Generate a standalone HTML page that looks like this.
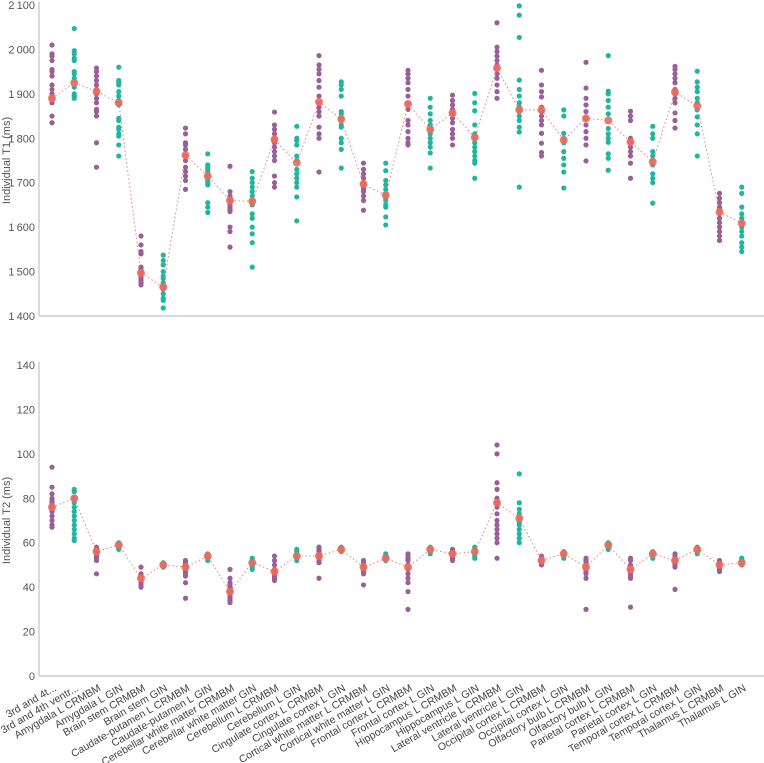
<!DOCTYPE html>
<html><head><meta charset="utf-8"><style>
html,body{margin:0;padding:0;background:#fff;}
svg{display:block;font-family:"Segoe UI","Liberation Sans",sans-serif;}
</style></head><body>
<svg id="chart" width="764" height="763" viewBox="0 0 764 763" xmlns="http://www.w3.org/2000/svg"></svg>
<script>
const categories=["3rd and 4t...","3rd and 4th ventr...","Amygdala L CRMBM","Amygdala L GIN","Brain stem CRMBM","Brain stem GIN","Caudate-putamen L CRMBM","Caudate-putamen L GIN","Cerebellar white matter CRMBM","Cerebellar white matter GIN","Cerebellum L CRMBM","Cerebellum L GIN","Cingulate cortex L CRMBM","Cingulate cortex L GIN","Cortical white matter L CRMBM","Cortical white matter L GIN","Frontal cortex L CRMBM","Frontal cortex L GIN","Hippocampus L CRMBM","Hippocampus L GIN","Lateral ventricle L CRMBM","Lateral ventricle L GIN","Occipital cortex L CRMBM","Occipital cortex L GIN","Olfactory bulb L CRMBM","Olfactory bulb L GIN","Parietal cortex L CRMBM","Parietal cortex L GIN","Temporal cortex L CRMBM","Temporal cortex L GIN","Thalamus L CRMBM","Thalamus L GIN"];
const t1Values=[
[2010,1990,1985,1975,1955,1950,1940,1920,1910,1900,1890,1885,1880,1850,1835],
[2047,1997,1990,1980,1975,1950,1945,1935,1930,1915,1900,1895,1890],
[1958,1950,1940,1930,1920,1910,1900,1890,1880,1865,1860,1850,1790,1735],
[1960,1930,1925,1920,1905,1895,1885,1880,1875,1845,1840,1825,1820,1810,1805,1785,1760],
[1580,1560,1545,1540,1510,1505,1500,1495,1490,1485,1480,1475,1470],
[1537,1525,1515,1500,1490,1485,1475,1470,1465,1460,1450,1440,1435,1418],
[1823,1810,1790,1785,1775,1760,1750,1735,1725,1715,1705,1685],
[1765,1740,1735,1730,1725,1720,1715,1710,1705,1700,1695,1655,1645,1633],
[1737,1680,1670,1665,1660,1655,1650,1645,1640,1635,1600,1590,1555],
[1725,1710,1700,1690,1680,1670,1660,1650,1630,1620,1600,1585,1565,1510],
[1859,1830,1820,1810,1800,1795,1790,1780,1770,1760,1750,1715,1700,1690],
[1827,1800,1795,1785,1760,1750,1730,1720,1710,1700,1690,1668,1614],
[1986,1965,1955,1945,1930,1915,1895,1880,1870,1860,1850,1825,1810,1800,1724],
[1927,1920,1910,1895,1860,1855,1845,1840,1830,1825,1800,1790,1775,1733],
[1744,1730,1720,1710,1700,1695,1690,1685,1680,1670,1660,1638],
[1744,1727,1705,1695,1685,1675,1670,1665,1660,1650,1645,1623,1605],
[1953,1945,1935,1925,1910,1895,1880,1865,1840,1830,1815,1800,1790,1785],
[1890,1870,1855,1840,1830,1820,1810,1800,1790,1780,1767,1733],
[1897,1885,1875,1865,1855,1845,1835,1820,1810,1800,1785],
[1901,1880,1862,1830,1810,1800,1790,1780,1770,1760,1750,1744,1710],
[2060,2005,1995,1985,1975,1965,1955,1945,1935,1920,1905,1890],
[2098,2077,2027,1931,1910,1895,1880,1870,1860,1850,1840,1825,1814,1690],
[1953,1920,1905,1893,1870,1860,1850,1840,1830,1811,1789,1768,1760],
[1864,1850,1811,1800,1790,1770,1755,1740,1724,1688],
[1971,1913,1890,1875,1860,1845,1830,1815,1800,1785,1749],
[1986,1906,1900,1885,1870,1855,1822,1810,1800,1791,1765,1755,1728],
[1861,1850,1840,1800,1790,1780,1770,1760,1744,1710],
[1827,1810,1800,1770,1760,1750,1740,1720,1710,1700,1654],
[1962,1955,1945,1935,1925,1910,1900,1890,1880,1857,1840,1823],
[1951,1927,1915,1905,1890,1880,1864,1848,1830,1810,1760],
[1676,1665,1655,1645,1640,1630,1620,1610,1600,1590,1580,1570],
[1690,1676,1645,1630,1620,1610,1600,1590,1580,1565,1555,1545]];
const t1Means=[1890,1925,1905,1880,1497,1465,1762,1715,1660,1658,1797,1745,1882,1843,1697,1672,1877,1820,1857,1802,1958,1864,1864,1796,1845,1840,1792,1747,1904,1873,1634,1609];
const t2Values=[
[94,85,82,80,79,78,77,76,75,74,72,70,68,67],
[84,83,80,78,76,74,72,70,68,66,64,62,61],
[58,57,56,55,54,53,52,46],
[60,59.5,59,58.5,58,57.5,57],
[49,46,45,44,43,42,41,40],
[51,50.5,50,49.5,49],
[52,51,50,49,48,47,46,45,42,35],
[55,54.5,54,53.5,53,52],
[48,44,42,41,40,39,38,37,36,35,34,33],
[53,52,51,50,49,48],
[54,52,50,48,47,46,45,44,43],
[57,56,55,54,53,52],
[58,57,56,55,54,53,52,51,44],
[58,57.5,57,56.5,56],
[52,51,50,49,48,47,46,41],
[55,54,53,52.5,52],
[55,54,53,52,50,48,46,44,42,38,30],
[58,57.5,57,56.5,56,55],
[57,56,55,54,53,52],
[58,57,56,55,54,53],
[104,100,87,84,80,78,76,73,70,68,66,64,62,60,53],
[91,78,75,73,71,70,69,68,66,64,62,60],
[54,53,52,51,50],
[56,55.5,55,54.5,54,53],
[53,52,51,50,49,48,47,46,44,30],
[60,59.5,59,58.5,58,57],
[53,52,50,48,47,46,45,44,31],
[56,55.5,55,54.5,54,53],
[55,54,53,52,51,50,49,39],
[58,57.5,57,56.5,56,55],
[52,51,50,49,48,47],
[53,52.5,52,51.5,51,50]];
const t2Means=[76,80,56,59,44,50,49,54,38,51,47,54,54,57,49,53,49,57,55,56,78,71,52,55,49,59,48,55,52,57,50,51];
const t1Ticks=[1400,1500,1600,1700,1800,1900,2000,2100];
const t2Ticks=[0,20,40,60,80,100,120,140];

const NS="http://www.w3.org/2000/svg";
const svg=document.getElementById('chart');
function mk(tag,attrs,parent){const e=document.createElementNS(NS,tag);for(const k in attrs)e.setAttribute(k,attrs[k]);(parent||svg).appendChild(e);return e;}
const X0=39,X1=764;
function xPos(i){return 52+i*22.25;}
const y1=v=>316-(v-1400)/700*311;
const y2=v=>676-v/140*311;
function fmt(v){const s=String(v);return s.length>3?s.slice(0,s.length-3)+"\u2009"+s.slice(-3):s;}
const PURPLE="#9a5e98",TEAL="#1fb59f",MEAN="#ef6a5a";

function panel(name,values,means,ticks,yf,top,bottom,title){
  const g=mk('g',{});
  
  
  const ax=mk('line',{x1:X0,y1:top-3,x2:X0,y2:bottom,stroke:'#cfcfcf','stroke-width':1.5},g);
  
  
  const bx=mk('line',{x1:X0,y1:bottom,x2:X1,y2:bottom,stroke:'#cfcfcf','stroke-width':1.5},g);
  
  
  ticks.forEach(t=>{
    const tx=mk('text',{x:X0-4,y:yf(t)+4,'text-anchor':'end','font-size':11,fill:'#555'},g);
    tx.textContent=fmt(t);
    
    
  });
  const ttl=mk('text',{x:0,y:0,'text-anchor':'middle','font-size':11,fill:'#555',transform:`translate(10,${(top+bottom)/2}) rotate(-90)`},g);
  ttl.textContent=title;
  
  
  values.forEach((arr,i)=>{
    const col=i%2===0?PURPLE:TEAL;
    arr.forEach(v=>{
      const c=mk('circle',{cx:xPos(i),cy:yf(v),r:2.6,fill:col},g);
      
      
    });
  });
  const pts=means.map((m,i)=>xPos(i)+','+yf(m)).join(' ');
  const pl=mk('polyline',{points:pts,fill:'none',stroke:'#e58078','stroke-width':1,'stroke-dasharray':'1.5,2.5'},g);
  
  
  means.forEach((m,i)=>{
    const c=mk('circle',{cx:xPos(i),cy:yf(m),r:4,fill:MEAN,'fill-opacity':0.9},g);
    
    
  });
}
panel('t1',t1Values,t1Means,t1Ticks,y1,5,316,'Individual T1 (ms)');
panel('t2',t2Values,t2Means,t2Ticks,y2,365,676,'Individual T2 (ms)');
categories.forEach((c,i)=>{
  const t=mk('text',{x:0,y:0,'text-anchor':'end','font-size':10.5,fill:'#444',transform:`translate(${xPos(i)+5},${690}) rotate(-30)`});
  t.textContent=c;
  
  
});
</script>
</body></html>
